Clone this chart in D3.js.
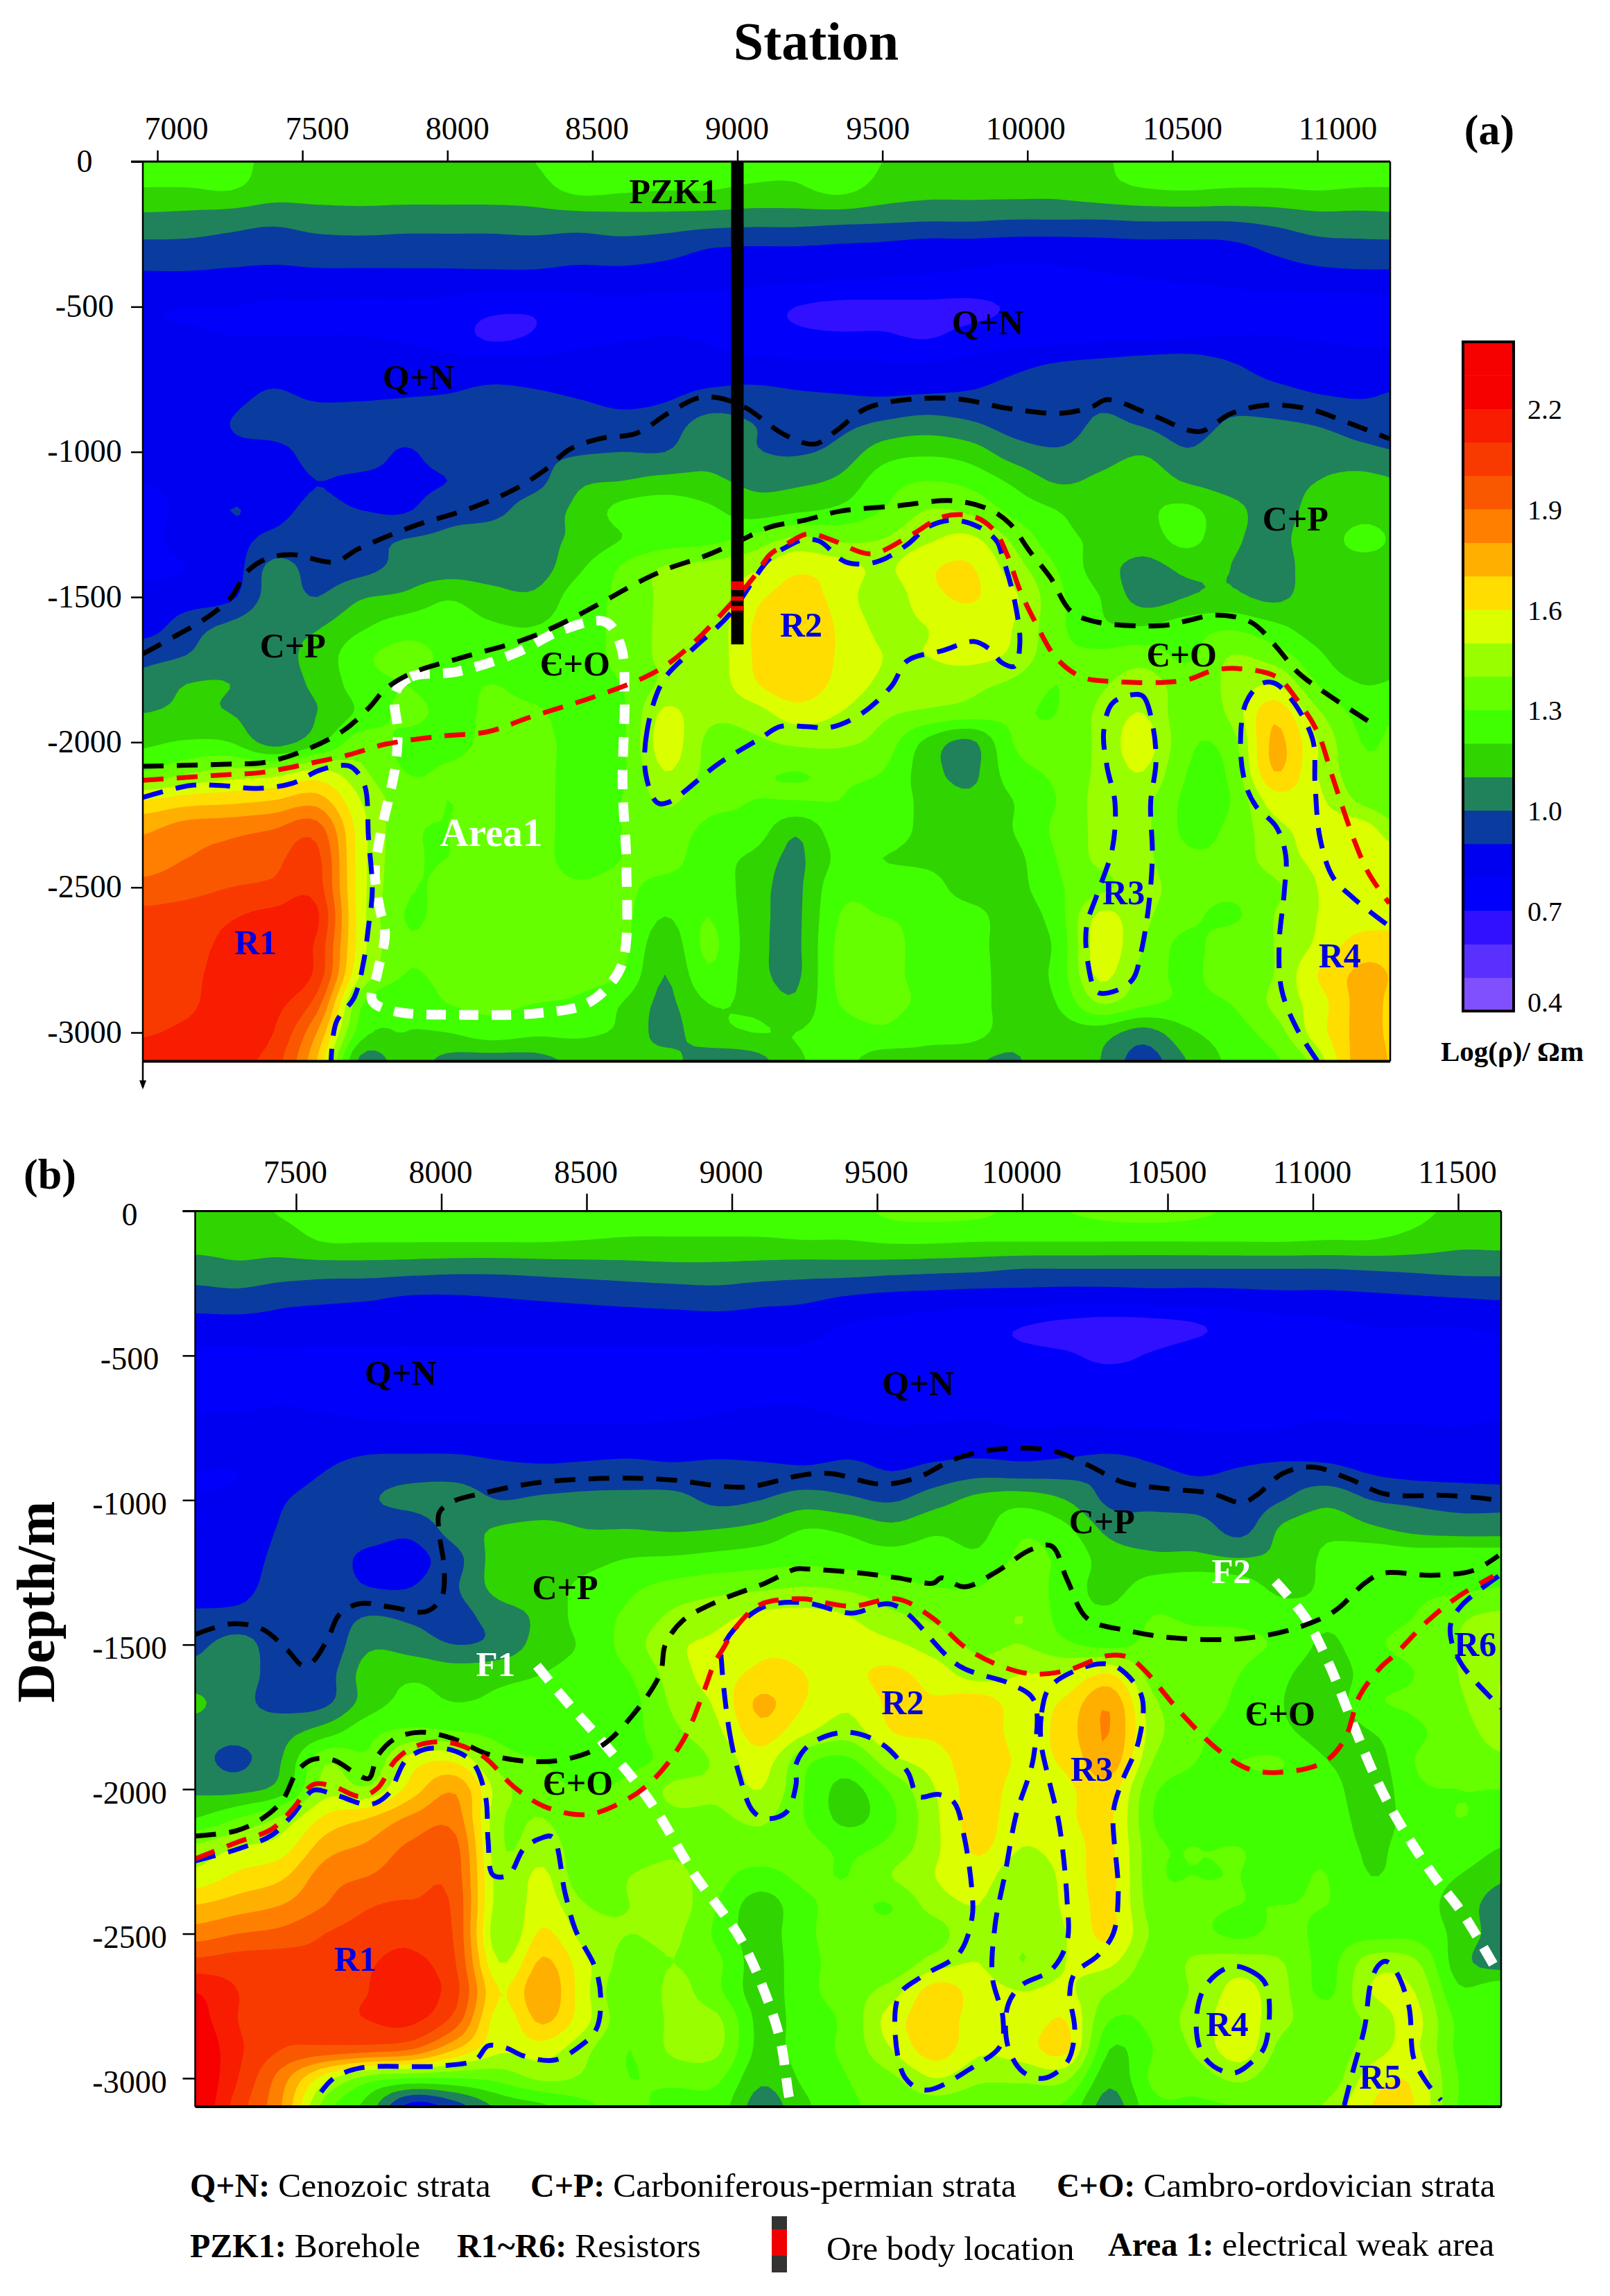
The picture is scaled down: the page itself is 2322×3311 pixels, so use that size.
<!DOCTYPE html>
<html>
<head>
<meta charset="utf-8">
<title>Station resistivity sections</title>
<script src="https://cdn.jsdelivr.net/npm/d3@7"></script>
<style>
	html, body { margin: 0; padding: 0; background: #fff; }
	svg text { font-family: "Liberation Serif", serif; }
</style>
</head>
<body>
<div id="chart"></div>
<script>
//------------------------------------------------------------------------------
// Data
//------------------------------------------------------------------------------

// log10(rho) x 100, one row per depth step (0, 100 ... 3100 m)
var stationStepA = 150, stationStartA = 6950;
var rhoA = [
[125,125,123,118,118,118,118,118,118,120,125,125,125,125,123,122,125,120,115,115,115,115,118,125,125,125,125,125,125,125],
[119,119,120,115,115,115,115,115,115,116,122,121,120,120,118,118,122,116,113,113,113,113,116,119,120,119,119,120,119,119],
[107,106,104,102,104,105,104,104,104,105,105,106,106,105,104,104,103,102,101,101,100,100,100,101,101,101,103,106,106,107],
[97,97,96,95,96,96,96,96,96,96,95,96,94,90,89,89,88,87,85,85,84,84,85,86,86,87,92,96,97,97],
[88,88,87,86,87,87,87,87,87,87,86,86,85,84,83,82,81,80,79,78,77,78,79,80,81,82,84,86,87,87],
[81,80,80,79,79,78,78,77,73,72,76,77,77,76,74,70,68,68,68,68,71,74,74,75,76,77,77,76,76,76],
[81,81,80,80,80,80,79,76,68,71,77,79,80,79,75,72,71,71,69,73,75,76,77,78,79,80,80,79,78,78],
[85,85,85,85,84,84,84,84,84,84,84,84,83,83,83,82,82,81,81,83,87,91,93,95,96,91,86,85,84,84],
[86,86,87,91,88,88,89,90,92,91,89,87,88,92,93,91,90,89,90,91,94,98,98,98,98,96,93,90,89,91],
[85,86,90,95,95,96,96,96,96,96,95,93,95,103,100,96,97,101,104,101,96,96,101,99,95,101,101,99,95,93],
[82,82,88,87,94,96,89,95,97,98,99,100,100,107,101,99,103,115,118,115,105,101,105,109,101,107,107,106,103,100],
[80,82,87,86,90,88,88,90,95,97,108,110,113,112,108,108,112,125,130,127,118,109,112,116,109,106,107,110,113,110],
[78,82,90,88,92,90,89,96,97,105,112,123,126,122,115,118,122,130,140,138,127,120,115,118,122,113,107,113,117,116],
[78,83,87,92,95,97,100,102,105,107,112,120,125,127,133,142,138,140,148,152,138,124,118,115,123,112,108,115,122,118],
[78,80,84,103,96,97,103,105,105,105,118,131,141,143,148,158,155,148,158,161,145,130,115,107,112,110,106,115,117,117],
[83,85,88,104,100,109,112,119,114,112,125,132,142,142,157,163,157,143,156,161,152,133,120,106,110,112,108,115,118,118],
[85,95,102,108,109,118,125,125,121,120,125,133,142,142,160,165,159,147,150,155,150,133,122,120,125,128,122,115,113,115],
[97,100,108,108,113,127,133,128,124,122,125,133,142,142,160,167,159,150,150,153,148,133,132,135,128,140,135,122,112,117],
[103,110,110,107,112,125,130,127,130,127,127,130,142,142,158,167,157,148,146,143,138,130,138,145,135,142,150,130,120,122],
[110,112,110,105,110,122,132,128,131,131,127,128,152,142,145,155,150,142,138,135,132,130,142,150,133,142,167,142,127,130],
[118,121,120,106,117,135,128,127,132,132,128,128,155,138,138,142,142,136,118,108,130,133,142,155,132,135,172,150,130,133],
[130,138,143,144,152,142,130,131,133,133,127,128,150,137,132,130,132,130,115,107,126,132,142,150,130,132,170,150,133,132],
[160,165,167,170,175,150,135,130,133,133,127,130,142,133,130,130,130,125,118,112,120,130,143,143,128,130,155,152,138,130],
[178,185,187,190,195,155,133,130,133,133,127,130,135,128,127,112,126,127,117,113,120,132,142,142,128,132,147,153,155,140],
[185,190,193,197,203,155,133,130,133,133,127,130,133,125,118,108,122,120,117,114,117,130,142,142,132,133,145,152,155,155],
[193,196,200,202,205,155,132,131,133,133,131,132,127,128,115,108,127,126,126,114,116,128,138,142,136,133,138,150,155,155],
[203,205,209,213,212,155,130,133,133,133,133,133,120,130,115,108,130,130,128,125,115,125,152,142,133,128,140,150,155,155],
[205,207,212,215,208,155,132,135,135,135,135,133,113,132,115,108,132,133,127,125,115,122,155,140,127,137,140,152,165,165],
[205,208,213,215,207,150,130,133,135,135,134,130,110,128,115,108,132,133,127,126,115,123,152,136,128,136,140,160,172,168],
[205,208,215,213,195,132,122,130,132,130,128,120,108,120,118,112,130,133,128,126,115,120,140,132,128,130,142,155,173,165],
[209,212,215,210,180,125,120,120,125,122,122,118,107,116,120,120,125,128,123,124,115,116,115,106,118,125,135,155,173,165],
[215,215,212,205,170,107,115,107,105,106,112,110,113,105,105,118,123,115,117,112,108,120,110,95,110,122,128,145,175,165]
];

var stationStepB = 150, stationStartB = 7150;
var rhoB = [
[115,116,121,125,125,125,125,125,125,125,125,125,125,126,126,127,132,133,132,128,130,133,134,132,128,125,124,123,122,118,115],
[113,113,115,121,121,121,121,121,121,120,119,119,119,119,120,120,122,122,121,121,121,121,121,121,121,121,120,120,117,113,113],
[106,108,106,105,105,104,103,103,104,105,106,107,107,106,105,105,104,103,102,100,100,100,100,100,100,100,100,101,102,103,103],
[95,96,93,92,91,89,89,90,91,92,93,94,95,93,92,89,87,86,85,85,84,84,85,85,86,87,87,88,89,90,91],
[86,86,86,85,85,85,85,85,85,85,85,85,85,85,84,79,77,75,73,70,67,65,66,69,74,76,78,80,80,80,81],
[78,78,78,78,78,78,78,78,78,78,78,78,78,78,78,75,75,74,73,72,71,68,71,75,76,76,78,79,79,79,80],
[78,78,78,77,77,77,77,77,77,77,77,77,77,77,77,77,76,76,75,75,75,75,75,76,76,76,77,77,78,78,78],
[80,80,81,80,79,78,78,78,78,78,78,79,80,81,81,79,77,78,79,78,78,77,76,76,78,79,79,78,78,78,79],
[86,86,86,85,86,86,86,85,85,85,85,84,84,84,84,86,85,85,84,83,84,85,84,83,82,82,84,84,84,83,84],
[80,80,84,90,95,96,96,93,92,93,94,93,94,93,92,93,90,93,96,95,96,97,92,89,91,94,93,89,87,86,85],
[80,82,89,95,99,103,105,100,102,103,103,103,98,100,105,102,99,106,113,116,110,98,97,95,94,100,107,100,98,97,97],
[80,82,91,94,95,93,105,111,113,110,110,109,110,113,120,118,113,118,117,128,122,107,105,105,97,112,117,112,107,105,105],
[82,84,93,94,88,87,97,115,118,117,120,121,123,125,127,125,124,125,122,132,127,115,112,112,110,113,122,127,126,127,127],
[84,86,95,95,90,90,99,114,117,122,128,133,136,138,140,138,133,130,130,136,125,117,125,128,125,117,122,127,128,128,130],
[92,93,96,95,100,98,97,105,113,125,132,142,147,152,153,150,142,138,133,140,125,122,130,128,128,125,122,127,130,138,142],
[98,103,95,93,108,105,100,103,115,122,135,148,152,158,158,155,152,145,138,140,132,127,133,134,132,128,118,128,133,140,148],
[103,103,97,96,115,118,115,117,120,124,130,145,155,162,160,158,162,155,145,150,150,160,135,133,130,122,114,125,130,140,150],
[112,103,97,98,115,123,120,122,124,125,127,142,152,172,160,152,162,161,165,155,162,178,142,135,128,120,114,128,132,138,150],
[105,103,106,115,127,132,130,127,125,125,127,138,148,166,152,145,160,162,168,155,165,180,145,132,127,122,115,120,128,135,145],
[103,98,110,138,132,155,158,135,130,127,128,133,142,155,133,128,147,155,167,158,162,177,140,130,130,130,120,115,130,133,138],
[108,107,115,145,142,165,178,145,133,130,132,142,142,150,130,117,132,150,165,155,158,165,132,128,128,127,125,113,128,130,130],
[120,130,142,162,170,182,185,142,140,132,132,138,138,142,130,117,128,148,165,152,158,162,130,127,127,127,127,115,125,130,127],
[142,150,155,175,182,192,193,142,145,133,132,138,133,135,133,128,133,148,162,150,155,162,133,130,130,128,128,118,125,127,120],
[153,162,168,185,190,196,195,145,152,132,140,143,133,127,132,130,140,150,155,142,153,163,133,130,130,128,130,120,124,120,112],
[170,175,180,190,199,201,197,145,155,140,140,145,130,115,128,132,130,145,150,140,152,162,135,132,130,130,130,125,124,116,105],
[185,190,193,200,205,207,198,142,162,145,140,142,128,115,128,133,133,135,150,142,150,162,138,133,128,133,127,127,127,117,105],
[203,205,205,203,209,212,200,150,172,152,135,140,132,115,127,133,132,145,150,140,150,152,135,142,145,140,127,145,142,115,105],
[220,210,205,205,210,215,203,160,178,152,130,143,132,115,127,135,145,165,155,150,152,140,133,142,153,142,128,150,150,122,128],
[225,210,202,205,210,212,195,155,172,152,133,142,142,117,125,133,155,165,155,153,160,130,133,145,155,142,135,142,153,128,128],
[230,212,200,197,195,190,170,152,155,142,130,142,142,117,125,133,150,165,152,155,162,120,130,142,155,136,133,145,152,128,128],
[230,210,185,155,135,130,130,133,142,138,130,133,132,112,122,130,138,150,142,142,142,113,132,135,142,132,133,155,158,130,128],
[230,205,180,135,115,85,95,112,118,128,133,125,125,105,118,128,133,135,133,132,128,105,127,128,130,133,142,160,160,130,128]
];
var depthStep = 100;

// one colour per 0.1 band, from 0.4 up to 2.4
var bandColors = ["#8050ff","#5a30ff","#3010ff","#0000fb","#0000f0","#0a3c9f","#20825a","#30d400","#40ff00","#66ff00",
	"#99ff00","#dcff00","#ffdd00","#ffaf00","#ff8000","#f95800","#f93a00","#f81c00","#f60000","#f60000"];
var colorbarTicks = [0.4, 0.7, 1.0, 1.3, 1.6, 1.9, 2.2];

var stationTicksA = [7000,7500,8000,8500,9000,9500,10000,10500,11000];
var stationTicksB = [7500,8000,8500,9000,9500,10000,10500,11000,11500];
var depthTicks = [0,-500,-1000,-1500,-2000,-2500,-3000];

// interpreted boundaries, [station, depth]
var blackTopA = [[6950,1696],[7060,1635],[7166,1574],[7254,1501],[7307,1415],[7378,1367],[7467,1354],[7608,1379],[7697,1332],[7874,1259],[8086,1192],[8227,1131],[8334,1064],[8422,991],[8528,954],[8652,936],[8758,869],[8865,814],[8935,814],[9024,845],[9165,942],[9266,973],[9337,930],[9443,851],[9585,820],[9762,818],[9939,851],[10116,867],[10222,845],[10275,820],[10434,875],[10593,930],[10700,869],[10824,839],[10965,851],[11107,900],[11248,955]];
var blackLowA = [[6950,2083],[7219,2076],[7378,2068],[7520,2023],[7644,1958],[7732,1879],[7785,1818],[7874,1763],[8051,1708],[8263,1647],[8405,1586],[8564,1501],[8652,1452],[8758,1403],[8882,1361],[9000,1310],[9112,1259],[9233,1235],[9355,1204],[9549,1186],[9744,1168],[9868,1198],[9939,1247],[10010,1345],[10080,1434],[10151,1550],[10240,1586],[10470,1598],[10558,1580],[10647,1562],[10770,1586],[10859,1672],[10930,1757],[11036,1836],[11186,1934]];
var redA = [[6950,2131],[7219,2113],[7361,2104],[7520,2074],[7661,2043],[7785,2007],[7980,1979],[8139,1964],[8281,1915],[8493,1848],[8670,1781],[8758,1732],[8847,1659],[8971,1531],[9059,1428],[9112,1354],[9165,1320],[9233,1284],[9266,1284],[9337,1308],[9461,1351],[9603,1284],[9709,1223],[9815,1223],[9886,1271],[9930,1354],[9974,1476],[10027,1586],[10098,1708],[10186,1775],[10293,1791],[10540,1787],[10647,1751],[10735,1747],[10859,1775],[10930,1854],[11000,1964],[11053,2122],[11124,2330],[11177,2452],[11248,2555]];
var blueR1A = [[6950,2190],[7113,2149],[7219,2149],[7343,2159],[7467,2141],[7555,2098],[7626,2080],[7670,2086],[7714,2147],[7728,2330],[7741,2513],[7728,2634],[7711,2756],[7679,2878],[7617,2964],[7599,3098]];
var blueR2A = [[8741,1793],[8688,1964],[8684,2110],[8723,2208],[8760,2208],[8935,2074],[9077,1988],[9148,1946],[9233,1946],[9319,1949],[9426,1903],[9532,1806],[9585,1720],[9709,1684],[9815,1653],[9868,1678],[9912,1726],[9956,1738],[9974,1659],[9956,1513],[9912,1354],[9895,1308],[9833,1259],[9744,1235],[9656,1259],[9585,1320],[9479,1379],[9373,1379],[9284,1308],[9231,1302],[9183,1320],[9112,1367],[8971,1562],[8829,1696]];
var blueR3A = [[10363,1836],[10399,1842],[10434,1952],[10443,2074],[10425,2208],[10431,2391],[10417,2574],[10390,2732],[10363,2817],[10293,2860],[10240,2860],[10208,2756],[10204,2634],[10240,2525],[10293,2366],[10302,2208],[10275,2086],[10263,1964],[10293,1866]];
var blueR4A = [[11000,3098],[10930,2988],[10877,2854],[10868,2696],[10886,2513],[10891,2391],[10859,2293],[10788,2220],[10753,2147],[10735,2025],[10753,1866],[10806,1799],[10850,1796],[10903,1842],[10983,1988],[10992,2147],[11009,2330],[11053,2464],[11124,2537],[11248,2634]];
var whiteAreaA = [[7820,1830],[7874,1775],[8033,1757],[8227,1696],[8405,1610],[8546,1586],[8599,1671],[8611,1842],[8604,2147],[8617,2415],[8608,2744],[8564,2830],[8475,2903],[8316,2933],[8051,2939],[7820,2927],[7741,2890],[7759,2793],[7785,2659],[7767,2574],[7750,2452],[7767,2330],[7820,2086],[7829,1964]];

var blackTopB = [[7153,1465],[7277,1428],[7383,1446],[7471,1520],[7524,1573],[7560,1556],[7613,1471],[7648,1397],[7719,1358],[7825,1370],[7949,1385],[8001,1336],[8010,1238],[7993,1116],[7993,1043],[8037,1006],[8143,976],[8337,939],[8603,924],[8780,929],[9045,955],[9239,914],[9340,908],[9517,945],[9641,921],[9765,859],[9906,825],[10101,829],[10224,878],[10348,939],[10490,960],[10649,976],[10755,1009],[10808,982],[10896,908],[11002,886],[11126,927],[11250,979],[11462,984],[11603,996],[11649,1006]];
var blackLowB = [[7153,2162],[7294,2144],[7383,2102],[7453,2039],[7506,1935],[7559,1897],[7630,1900],[7701,1942],[7750,1963],[7780,1886],[7842,1824],[7931,1803],[8037,1824],[8161,1879],[8302,1904],[8426,1897],[8550,1851],[8656,1747],[8753,1601],[8771,1500],[8832,1416],[8956,1348],[9115,1287],[9221,1238],[9252,1238],[9429,1251],[9570,1269],[9694,1287],[9720,1269],[9800,1300],[9906,1251],[10030,1171],[10101,1159],[10154,1275],[10224,1410],[10366,1452],[10525,1477],[10755,1479],[10932,1446],[11073,1385],[11179,1287],[11241,1253],[11409,1260],[11550,1244],[11639,1192]];
var redB = [[7153,2241],[7294,2185],[7418,2137],[7489,2067],[7559,1984],[7630,1991],[7719,2025],[7780,1997],[7842,1900],[7912,1851],[8019,1837],[8143,1886],[8249,1991],[8355,2060],[8497,2088],[8620,2046],[8727,1970],[8833,1830],[8903,1663],[8939,1566],[8974,1507],[9009,1446],[9098,1361],[9204,1342],[9252,1342],[9411,1367],[9570,1342],[9694,1410],[9800,1507],[9906,1566],[10030,1601],[10150,1590],[10295,1538],[10366,1544],[10419,1587],[10543,1733],[10667,1858],[10773,1928],[10879,1942],[11037,1907],[11108,1830],[11161,1677],[11232,1580],[11285,1532],[11391,1422],[11497,1336],[11621,1263]];
var blueR1B = [[7153,2248],[7303,2206],[7418,2158],[7489,2088],[7559,2004],[7630,2018],[7754,2053],[7816,2018],[7878,1900],[7948,1861],[8037,1865],[8108,1907],[8152,2025],[8161,2178],[8178,2297],[8231,2297],[8284,2206],[8337,2172],[8382,2165],[8426,2359],[8461,2485],[8532,2624],[8549,2735],[8532,2833],[8479,2888],[8390,2937],[8284,2923],[8222,2895],[8161,2888],[8117,2937],[7984,2958],[7719,2965],[7630,3000],[7586,3048]];
var blueR2B = [[8965,1566],[8992,1803],[9027,1956],[9071,2074],[9115,2102],[9186,2081],[9221,1984],[9221,1914],[9270,1844],[9393,1803],[9517,1844],[9606,1942],[9641,2025],[9712,2018],[9765,2046],[9800,2165],[9827,2359],[9827,2443],[9782,2568],[9659,2645],[9579,2707],[9561,2819],[9597,2999],[9667,3041],[9835,2958],[9924,2888],[9933,2791],[9897,2652],[9906,2471],[9941,2290],[9977,2095],[10039,1886],[10039,1691],[9959,1636],[9782,1573],[9553,1361],[9411,1391],[9252,1355],[9115,1367],[9009,1446],[8965,1520]];
var blueR3B = [[10092,1650],[10065,1747],[10065,1844],[10092,1970],[10127,2123],[10154,2387],[10154,2526],[10101,2624],[9995,2680],[9950,2749],[9950,2888],[10003,2979],[10074,3000],[10154,2944],[10180,2833],[10163,2708],[10180,2638],[10260,2575],[10313,2499],[10330,2359],[10313,2081],[10339,1984],[10401,1830],[10410,1677],[10330,1580],[10277,1566],[10189,1587]];
var blueR4B = [[10719,2613],[10790,2631],[10840,2680],[10835,2888],[10790,2944],[10728,2982],[10657,2958],[10613,2902],[10599,2791],[10631,2680]];
var blueR5B = [[11108,3094],[11135,2986],[11179,2819],[11197,2680],[11223,2613],[11250,2595],[11282,2624],[11330,2749],[11347,2930],[11391,3014],[11441,3076]];
var blueR6B = [[11639,1263],[11515,1361],[11476,1422],[11476,1483],[11515,1573],[11648,1719]];
var faultF1 = [[8329,1573],[8426,1691],[8585,1872],[8726,2053],[8868,2290],[9027,2513],[9115,2707],[9168,2874],[9195,3055],[9204,3097]];
var faultF2 = [[10870,1281],[10976,1410],[11055,1566],[11144,1789],[11214,1956],[11285,2095],[11409,2290],[11515,2429],[11639,2638]];

// annotations: text, station, depth of baseline
var labelsA = [
	["Q+N",7900,784],["Q+N",9863,595],["PZK1",8780,144],
	["C+P",7467,1708],["C+P",10924,1271],["Є+O",8440,1771],["Є+O",10532,1738],
	["Area1",8151,2357],["R1",7339,2730],["R2",9220,1635],["R3",10332,2559],["R4",11077,2775]
];
var labelsB = [
	["Q+N",7860,600],["Q+N",9641,637],["C+P",8426,1342],["C+P",10274,1114],
	["F1",8187,1608],["F2",10719,1287],["Є+O",8470,2018],["Є+O",10887,1778],
	["R1",7704,2627],["R2",9588,1740],["R3",10239,1970],["R4",10705,2854],["R5",11232,3035],["R6",11559,1538]
];
var oreStripes = [[1446,1476],[1498,1513],[1531,1547]];


//------------------------------------------------------------------------------
// Helpers
//------------------------------------------------------------------------------

function catmull(p0, p1, p2, p3, t) {
	return 0.5 * (2*p1 + (p2-p0)*t + (2*p0-5*p1+4*p2-p3)*t*t + (3*p1-p0-3*p2+p3)*t*t*t);
}

// refine the read grid so the contour edges come out round
function refine(grid, k) {
	var ny = grid.length, nx = grid[0].length;
	var w = (nx-1)*k+1, h = (ny-1)*k+1;
	var out = new Float64Array(w*h);
	function at(j, i) {
		return grid[Math.max(0, Math.min(ny-1, j))][Math.max(0, Math.min(nx-1, i))];
	}
	for (var y = 0; y < h; y++) {
		var j = Math.min(Math.floor(y/k), ny-2), ty = y/k - j;
		for (var x = 0; x < w; x++) {
			var i = Math.min(Math.floor(x/k), nx-2), tx = x/k - i;
			var col = [];
			for (var m = -1; m <= 2; m++) {
				col.push(catmull(at(j+m,i-1), at(j+m,i), at(j+m,i+1), at(j+m,i+2), tx));
			}
			out[y*w+x] = catmull(col[0], col[1], col[2], col[3], ty);
		}
	}
	return {values: out, width: w, height: h};
}

function drawSection(svg, id, grid, start, step, xs, ys, box) {
	var k = 6;
	var fine = refine(grid, k);
	var clipId = "clip" + id;
	svg.append("clipPath").attr("id", clipId).append("rect")
		.attr("x", box.left).attr("y", box.top)
		.attr("width", box.right-box.left).attr("height", box.bottom-box.top);

	var g = svg.append("g").attr("clip-path", "url(#" + clipId + ")");
	g.append("rect").attr("x", box.left).attr("y", box.top)
		.attr("width", box.right-box.left).attr("height", box.bottom-box.top)
		.attr("fill", bandColors[0]);

	var thresholds = d3.range(1, bandColors.length).map(function(b) { return 40 + b*10; });
	var contours = d3.contours().size([fine.width, fine.height]).thresholds(thresholds)(fine.values);
	var path = d3.geoPath(d3.geoTransform({
		point: function(x, y) {
			this.stream.point(xs(start + (x-0.5)/k*step), ys(-(y-0.5)/k*depthStep));
		}
	}));
	g.selectAll("path.band").data(contours).enter().append("path")
		.attr("class", "band")
		.attr("d", path)
		.attr("fill", function(d) { return bandColors[Math.round((d.value-40)/10)]; });
	return g;
}

function dashed(g, pts, xs, ys, color, width, dash, closed) {
	var line = d3.line()
		.x(function(d) { return xs(d[0]); })
		.y(function(d) { return ys(-d[1]); })
		.curve(closed ? d3.curveCatmullRomClosed : d3.curveCatmullRom);
	g.append("path").attr("d", line(pts))
		.attr("fill", "none").attr("stroke", color)
		.attr("stroke-width", width).attr("stroke-dasharray", dash);
}

function labelColor(d) {
	if (d[0] === "Area1" || d[0][0] === "F") return "#fff";
	return /^R\d/.test(d[0]) ? "#0000e0" : "#000";
}

function drawLabels(g, labels, xs, ys) {
	g.selectAll("text.note").data(labels).enter().append("text")
		.attr("class", "note")
		.attr("x", function(d) { return xs(d[1]); })
		.attr("y", function(d) { return ys(-d[2]); })
		.attr("text-anchor", "middle")
		.attr("font-weight", "bold")
		.attr("font-size", function(d) { return d[0] === "Area1" ? 57 : (d[0][0] === "F" ? 51 : 50); })
		.attr("fill", labelColor)
		.text(function(d) { return d[0]; });
}

function drawAxes(svg, xs, ys, box, opts) {
	var top = svg.append("g").attr("transform", "translate(0," + box.top + ")")
		.call(d3.axisTop(xs).tickValues(opts.stations).tickFormat(String)
			.tickSize(opts.xTick).tickPadding(opts.xPad));
	top.select(".domain").remove();
	top.selectAll("line").attr("stroke", "#000").attr("stroke-width", 2.5);
	top.selectAll("text").attr("font-size", 46).attr("fill", "#000")
		.attr("font-family", "Liberation Serif")
		.attr("dx", function(d, i) { return opts.nudge ? opts.nudge[i] : -1.5; });

	var left = svg.append("g").attr("transform", "translate(" + box.left + ",0)")
		.call(d3.axisLeft(ys).tickValues(depthTicks).tickFormat(String).tickSize(opts.yTick));
	left.select(".domain").remove();
	left.selectAll("line").attr("stroke", "#000").attr("stroke-width", 2.5);
	left.selectAll("text").attr("font-size", 46).attr("fill", "#000")
		.attr("font-family", "Liberation Serif")
		.attr("text-anchor", "middle")
		.attr("x", opts.yLabelX - box.left)
		.attr("dy", null)
		.attr("y", opts.yBase);

	var frame = svg.append("g").attr("stroke", "#000");
	frame.append("line").attr("x1", box.left-opts.yTick).attr("x2", box.right)
		.attr("y1", box.top).attr("y2", box.top).attr("stroke-width", 3);
	frame.append("line").attr("x1", box.left).attr("x2", box.right)
		.attr("y1", box.bottom).attr("y2", box.bottom).attr("stroke-width", 4);
	frame.append("line").attr("x1", box.left).attr("x2", box.left)
		.attr("y1", box.top).attr("y2", opts.axisEnd).attr("stroke-width", 2.5);
	frame.append("line").attr("x1", box.right).attr("x2", box.right)
		.attr("y1", box.top).attr("y2", box.bottom).attr("stroke-width", 2.5);
}

function drawColorbar(svg) {
	var barX = 2110, barW = 73;
	var y = d3.scaleLinear().domain([0.4, 2.4]).range([1458, 493]);
	svg.append("g").selectAll("rect").data(bandColors).enter().append("rect")
		.attr("x", barX).attr("width", barW)
		.attr("y", function(d, i) { return y(0.4 + (i+1)*0.1); })
		.attr("height", y(0.4) - y(0.5) + 0.5)
		.attr("fill", function(d) { return d; });
	svg.append("rect").attr("x", barX).attr("y", y(2.4)).attr("width", barW)
		.attr("height", y(0.4)-y(2.4)).attr("fill", "none")
		.attr("stroke", "#000").attr("stroke-width", 4);
	svg.append("g").selectAll("text").data(colorbarTicks).enter().append("text")
		.attr("x", 2228).attr("text-anchor", "middle")
		.attr("y", function(d) { return y(d) + (d === 0.4 ? 1 : 14.5); })
		.attr("font-size", 40)
		.text(function(d) { return d.toFixed(1); });
	svg.append("text").attr("x", 2181).attr("y", 1530).attr("text-anchor", "middle")
		.attr("font-size", 41).attr("font-weight", "bold").text("Log(ρ)/ Ωm");
}

function legendText(svg, x, y, bold, plain) {
	var t = svg.append("text").attr("x", x).attr("y", y).attr("font-size", 49.5);
	if (bold) t.append("tspan").attr("font-weight", "bold").attr("font-size", 48).text(bold + " ");
	t.append("tspan").text(plain);
}


//------------------------------------------------------------------------------
// Main
//------------------------------------------------------------------------------

function main() {
	var svg = d3.select("#chart").append("svg")
		.attr("width", 2322).attr("height", 3311)
		.style("display", "block");

	svg.append("text").attr("x", 1177).attr("y", 86).attr("text-anchor", "middle")
		.attr("font-size", 78).attr("font-weight", "bold").text("Station");

	// panel (a)
	var boxA = {left: 206, right: 2005, top: 233, bottom: 1530.6};
	var xA = d3.scaleLinear().domain([7000, 11000]).range([227, 1900]);
	var yA = d3.scaleLinear().domain([0, -3000]).range([233, 1489]);
	var gA = drawSection(svg, "A", rhoA, stationStartA, stationStepA, xA, yA, boxA);
	dashed(gA, whiteAreaA, xA, yA, "#fff", 14, "28 19", true);
	dashed(gA, blackTopA, xA, yA, "#000", 7, "30 19");
	dashed(gA, blackLowA, xA, yA, "#000", 7, "30 19");
	dashed(gA, blueR1A, xA, yA, "#0000f0", 7, "30 19");
	dashed(gA, blueR2A, xA, yA, "#0000f0", 7, "30 19", true);
	dashed(gA, blueR3A, xA, yA, "#0000f0", 7, "30 19", true);
	dashed(gA, blueR4A, xA, yA, "#0000f0", 7, "30 19");
	dashed(gA, redA, xA, yA, "#f00000", 7, "30 19");

	// borehole
	gA.append("rect").attr("x", xA(9000)-9).attr("width", 18)
		.attr("y", yA(0)).attr("height", yA(-1663)-yA(0)).attr("fill", "#000");
	gA.selectAll("rect.ore").data(oreStripes).enter().append("rect")
		.attr("class", "ore").attr("x", xA(9000)-9).attr("width", 18)
		.attr("y", function(d) { return yA(-d[0]); })
		.attr("height", function(d) { return yA(-d[1])-yA(-d[0]); })
		.attr("fill", "#f00000");
	drawLabels(gA, labelsA, xA, yA);
	drawAxes(svg, xA, yA, boxA, {
		stations: stationTicksA, xTick: 16, xPad: 16, yTick: 17, yLabelX: 122, yBase: 14,
		nudge: [27,21,14,6,-1,-7,-3,14,29], axisEnd: 1568
	});
	svg.append("path").attr("d", d3.line()([[201,1558],[206,1571],[211,1558]]))
		.attr("fill", "#000");
	svg.append("text").attr("x", 2148).attr("y", 208).attr("text-anchor", "middle")
		.attr("font-size", 62).attr("font-weight", "bold").text("(a)");

	drawColorbar(svg);

	// panel (b)
	var boxB = {left: 281.5, right: 2165, top: 1746.4, bottom: 3038};
	var xB = d3.scaleLinear().domain([7500, 11500]).range([427, 2103]);
	var yB = d3.scaleLinear().domain([0, -3000]).range([1746.4, 2997]);
	var gB = drawSection(svg, "B", rhoB, stationStartB, stationStepB, xB, yB, boxB);
	dashed(gB, faultF1, xB, yB, "#fff", 14, "28 19");
	dashed(gB, faultF2, xB, yB, "#fff", 14, "28 19");
	dashed(gB, blackTopB, xB, yB, "#000", 7, "30 19");
	dashed(gB, blackLowB, xB, yB, "#000", 7, "30 19");
	[blueR1B, blueR5B, blueR6B].forEach(function(p) { dashed(gB, p, xB, yB, "#0000f0", 7, "30 19"); });
	[blueR2B, blueR3B, blueR4B].forEach(function(p) { dashed(gB, p, xB, yB, "#0000f0", 7, "30 19", true); });
	dashed(gB, redB, xB, yB, "#f00000", 7, "30 19");
	drawLabels(gB, labelsB, xB, yB);
	drawAxes(svg, xB, yB, boxB, {
		stations: stationTicksB, xTick: 25, xPad: 15, yTick: 18, yLabelX: 187, yBase: 20,
		axisEnd: boxB.bottom
	});
	svg.append("text").attr("x", 72).attr("y", 1714).attr("text-anchor", "middle")
		.attr("font-size", 62).attr("font-weight", "bold").text("(b)");
	svg.append("text").attr("transform", "translate(78,2310) rotate(-90)").attr("text-anchor", "middle")
		.attr("font-size", 78).attr("font-weight", "bold").text("Depth/m");

	// legend
	legendText(svg, 274, 3168, "Q+N:", "Cenozoic strata");
	legendText(svg, 765, 3168, "C+P:", "Carboniferous-permian strata");
	legendText(svg, 1524, 3168, "Є+O:", "Cambro-ordovician strata");
	legendText(svg, 274, 3255, "PZK1:", "Borehole");
	legendText(svg, 659, 3255, "R1~R6:", "Resistors");
	svg.append("rect").attr("x", 1113).attr("y", 3196).attr("width", 22).attr("height", 81).attr("fill", "#333");
	svg.append("rect").attr("x", 1113).attr("y", 3215).attr("width", 22).attr("height", 38).attr("fill", "#f00000");
	legendText(svg, 1192, 3259, null, "Ore body location");
	legendText(svg, 1598, 3253, "Area 1:", "electrical weak area");
}

// Add listener to run 'main' when the page loads...
window.addEventListener('load', main, false);
</script>
</body>
</html>
